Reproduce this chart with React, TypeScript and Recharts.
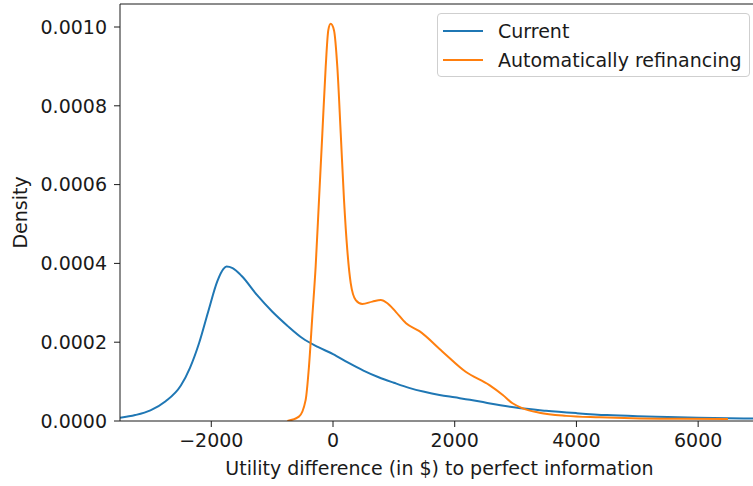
import { LineChart, Line, XAxis, YAxis, Legend, ReferenceLine, Label } from 'recharts';

const FONT = '"DejaVu Sans", "Liberation Sans", sans-serif';
const INK = '#1a1a1a';
const BLUE = '#1f77b4';
const ORANGE = '#ff7f0e';

// KDE of the utility gap, "Current" strategy
const currentGrid = [
  -3500, -3250, -3000, -2750, -2500, -2350, -2200, -2050, -1900, -1800, -1750, -1650,
  -1500, -1250, -1000, -750, -500, -250, 0, 250, 500, 750, 1000, 1250, 1500, 1750,
  2000, 2250, 2500, 2750, 3000, 3500, 4000, 4500, 5000, 5500, 6000, 6500, 7000,
];
const currentDensity = [
  0.000008, 0.000015, 0.000027, 0.00005, 0.00009, 0.000135, 0.000198, 0.000278, 0.000355, 0.000386, 0.000392, 0.000388,
  0.000368, 0.00032, 0.000278, 0.000242, 0.00021, 0.000188, 0.00017, 0.000148, 0.000128, 0.000111, 0.000097, 0.000084, 0.000074, 0.000066,
  0.00006, 0.000054, 0.000047, 0.00004, 0.000034, 0.000026, 0.00002, 0.000015, 0.000012, 0.00001, 0.000008, 0.000007, 0.000006,
];

// KDE of the utility gap, "Automatically refinancing" strategy
const autoGrid = [
  -750, -560, -450, -395, -340, -285, -230, -175, -120, -77, -38, 16, 71, 127, 181, 235,
  291, 374, 482, 647, 785, 894, 1032, 1200, 1420, 1800, 2180, 2570, 2790, 2950, 3120,
  3390, 3830, 4380, 4920, 5700, 6490,
];
const autoDensity = [
  0.0, 0.000011, 0.000053, 0.000138, 0.000265, 0.000392, 0.000561, 0.00073, 0.000899, 0.000992, 0.001008, 0.000992, 0.000899, 0.00073, 0.000561, 0.000434,
  0.00035, 0.000307, 0.000297, 0.000303, 0.000307, 0.000299, 0.000277, 0.000248, 0.000228, 0.000176, 0.000125, 0.000091, 0.000066, 0.000045, 0.000032,
  0.000021, 0.000013, 0.0000094, 0.0000069, 0.0000055, 0.000005,
];

const X_TICKS = [-2000, 0, 2000, 4000, 6000];
const Y_TICKS = [0, 0.0002, 0.0004, 0.0006, 0.0008, 0.001];
const X_DOMAIN = [-3500, 7000];
const Y_MAX = 0.0010584;

const currentData = currentGrid.map((x, i) => ({ x, y: currentDensity[i] }));
const autoData = autoGrid.map((x, i) => ({ x, y: autoDensity[i] }));

const SERIES = [
  { name: 'Current', color: BLUE, data: currentData },
  { name: 'Automatically refinancing', color: ORANGE, data: autoData },
];

const fmtX = (v: number) => (v < 0 ? `\u2212${Math.abs(v)}` : `${v}`);
const fmtY = (v: number) => v.toFixed(4);

const tickStyle = { fill: INK, fontSize: 19, fontFamily: FONT };

const DensityLabel = (props: any) => {
  const vb = props.viewBox || { x: 0, y: 4, width: 120, height: 417 };
  const cx = 27;
  const cy = vb.y + vb.height / 2;
  return (
    <text x={cx} y={cy} transform={`rotate(-90 ${cx} ${cy})`} textAnchor="middle"
      fill={INK} fontSize={19} fontFamily={FONT}>
      Density
    </text>
  );
};

// legend drawn in plotting order, not sorted by name
const LegendBox = () => (
  <div style={{
    position: 'relative', width: 311, height: 62, border: '1px solid #cfcfcf',
    borderRadius: 4, background: 'rgba(255,255,255,0.8)', fontFamily: FONT, fontSize: 19, color: INK,
  }}>
    {SERIES.map((s, i) => (
      <div key={s.name}>
        <svg width={40} height={4} style={{ position: 'absolute', left: 5, top: 15 + i * 29 }}>
          <line x1={0} y1={2} x2={40} y2={2} stroke={s.color} strokeWidth={2} />
        </svg>
        <span style={{ position: 'absolute', left: 60, top: 8 + i * 29, lineHeight: '19px', whiteSpace: 'nowrap' }}>
          {s.name}
        </span>
      </div>
    ))}
  </div>
);

export default function App() {
  return (
    <div style={{ position: 'absolute', top: 0, left: 0, width: 753, height: 486, overflow: 'hidden', background: '#fff' }}>
      <LineChart width={770} height={486} margin={{ top: 4, right: 11, bottom: 0, left: 0 }}>
        <XAxis
          dataKey="x"
          type="number"
          domain={X_DOMAIN}
          allowDataOverflow
          ticks={X_TICKS}
          tickFormatter={fmtX}
          tick={tickStyle}
          tickSize={6}
          tickMargin={7}
          height={65}
          axisLine={{ stroke: INK }}
          tickLine={{ stroke: INK }}
          label={{ value: 'Utility difference (in $) to perfect information', position: 'insideBottom', offset: 11, fill: INK, fontSize: 19, fontFamily: FONT }}
        />
        <YAxis
          type="number"
          domain={[0, Y_MAX]}
          allowDataOverflow
          ticks={Y_TICKS}
          tickFormatter={fmtY}
          tick={tickStyle}
          tickSize={6}
          tickMargin={7}
          width={120}
          axisLine={{ stroke: INK }}
          tickLine={{ stroke: INK }}
        >
          <Label content={DensityLabel} />
        </YAxis>
        <ReferenceLine y={Y_MAX} stroke={INK} strokeWidth={1} />
        <Legend
          layout="vertical"
          align="center"
          verticalAlign="middle"
          content={LegendBox}
          wrapperStyle={{ position: 'absolute', top: 13, left: 437, width: 313, height: 64 }}
        />
        {SERIES.map((s) => (
          <Line key={s.name} data={s.data} dataKey="y" name={s.name} type="monotone" stroke={s.color}
            strokeWidth={2} dot={false} isAnimationActive={false} />
        ))}
      </LineChart>
    </div>
  );
}
